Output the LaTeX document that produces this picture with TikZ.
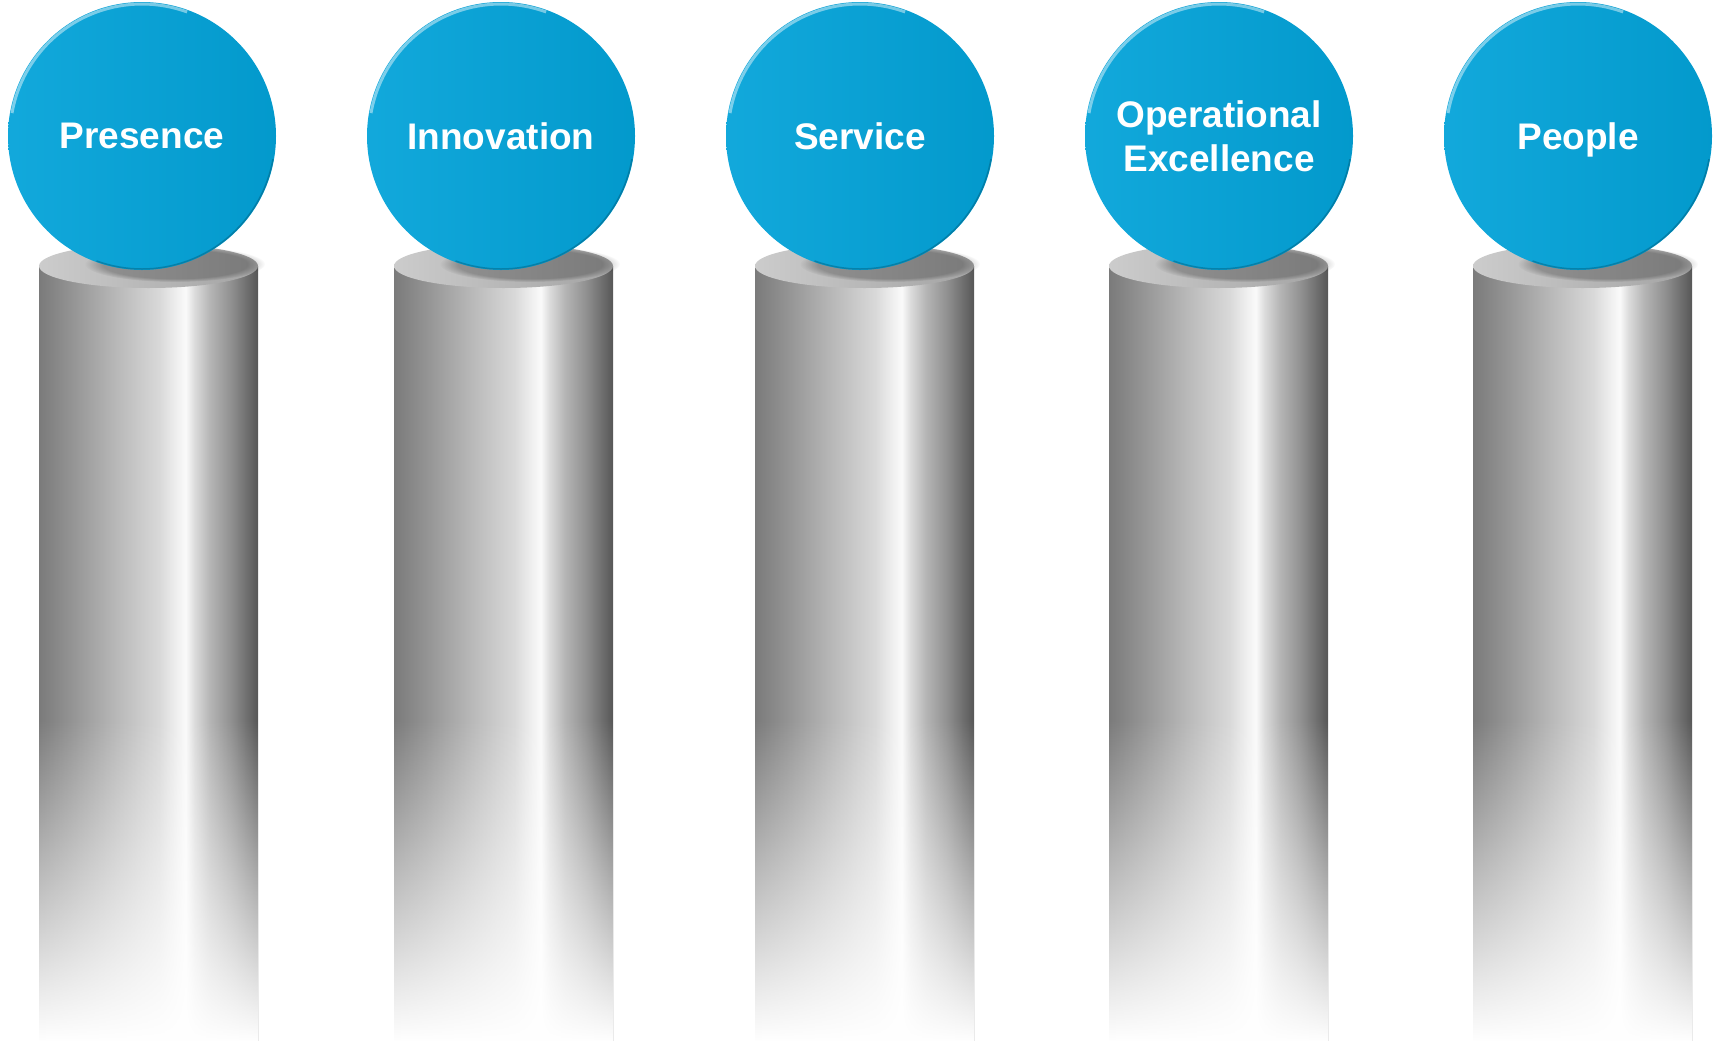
\documentclass[tikz,border=0pt]{standalone}
\usepackage{fontspec}
\setmainfont{Liberation Sans}
\usetikzlibrary{fadings}

\definecolor{ballblue}{RGB}{3,163,217}
\pgfdeclarehorizontalshading{pillarshade}{100bp}{color(0bp)=(black!52); color(25bp)=(black!52); color(32.5bp)=(black!42); color(42.5bp)=(black!28); color(52.5bp)=(black!15); color(56.5bp)=(black!6); color(58.5bp)=(black!2); color(60.5bp)=(black!14); color(64bp)=(black!29); color(69bp)=(black!44); color(75bp)=(black!66); color(100bp)=(black!66)}
\tikzfading[name=pillarfade, top color=transparent!100, bottom color=transparent!0]

\tikzset{
  pillar/.style={shading=pillarshade},
  pillarfoot/.style={fill=white, path fading=pillarfade},
  pillartop/.style={left color=black!20, right color=black!36},
  ballshadow/.style={fill=black, opacity=0.25, path fading=circle with fuzzy edge 20 percent},
  ball/.style={circle, minimum size=268pt, inner sep=0pt, left color=ballblue!94!white, right color=ballblue!94!black, text=white, font=\fontsize{37}{44}\selectfont\bfseries, align=center},
  oneline/.style={text depth=0pt},
  ballshine/.style={white, opacity=0.45, line width=3pt},
  ballrim/.style={ballblue!60!black, opacity=0.5, line width=1.5pt}
}

\begin{document}
\begin{tikzpicture}[x=1pt,y=-1pt]
\useasboundingbox (0,0) rectangle (1716,1045);

\shade[pillar] (39,266) rectangle (258,1040);
\fill[pillarfoot] (39,720) rectangle (258,1041);
\shade[pillartop] (148.5,266) ellipse (109.5 and 22);
\fill[ballshadow] (175,264) ellipse (90 and 18);
\node[ball,oneline] (presence) at (142,136) {Presence};
\draw[ballshine] (presence.center) ++(190:132) arc[start angle=190, end angle=290, radius=132];
\draw[ballrim] (presence.center) ++(10:133) arc[start angle=10, end angle=110, radius=133];

\shade[pillar] (394,266) rectangle (613,1040);
\fill[pillarfoot] (394,720) rectangle (613,1041);
\shade[pillartop] (503.5,266) ellipse (109.5 and 22);
\fill[ballshadow] (530,264) ellipse (90 and 18);
\node[ball,oneline] (innovation) at (501,136) {Innovation};
\draw[ballshine] (innovation.center) ++(190:132) arc[start angle=190, end angle=290, radius=132];
\draw[ballrim] (innovation.center) ++(10:133) arc[start angle=10, end angle=110, radius=133];

\shade[pillar] (755,266) rectangle (974,1040);
\fill[pillarfoot] (755,720) rectangle (974,1041);
\shade[pillartop] (864.5,266) ellipse (109.5 and 22);
\fill[ballshadow] (890,264) ellipse (90 and 18);
\node[ball,oneline] (service) at (860,136) {Service};
\draw[ballshine] (service.center) ++(190:132) arc[start angle=190, end angle=290, radius=132];
\draw[ballrim] (service.center) ++(10:133) arc[start angle=10, end angle=110, radius=133];

\shade[pillar] (1109,266) rectangle (1328,1040);
\fill[pillarfoot] (1109,720) rectangle (1328,1041);
\shade[pillartop] (1218.5,266) ellipse (109.5 and 22);
\fill[ballshadow] (1245,264) ellipse (90 and 18);
\node[ball] (opex) at (1219,136) {Operational\\Excellence};
\draw[ballshine] (opex.center) ++(190:132) arc[start angle=190, end angle=290, radius=132];
\draw[ballrim] (opex.center) ++(10:133) arc[start angle=10, end angle=110, radius=133];

\shade[pillar] (1473,266) rectangle (1692,1040);
\fill[pillarfoot] (1473,720) rectangle (1692,1041);
\shade[pillartop] (1582.5,266) ellipse (109.5 and 22);
\fill[ballshadow] (1608,264) ellipse (90 and 18);
\node[ball,oneline] (people) at (1578,136) {People};
\draw[ballshine] (people.center) ++(190:132) arc[start angle=190, end angle=290, radius=132];
\draw[ballrim] (people.center) ++(10:133) arc[start angle=10, end angle=110, radius=133];

\end{tikzpicture}
\end{document}
